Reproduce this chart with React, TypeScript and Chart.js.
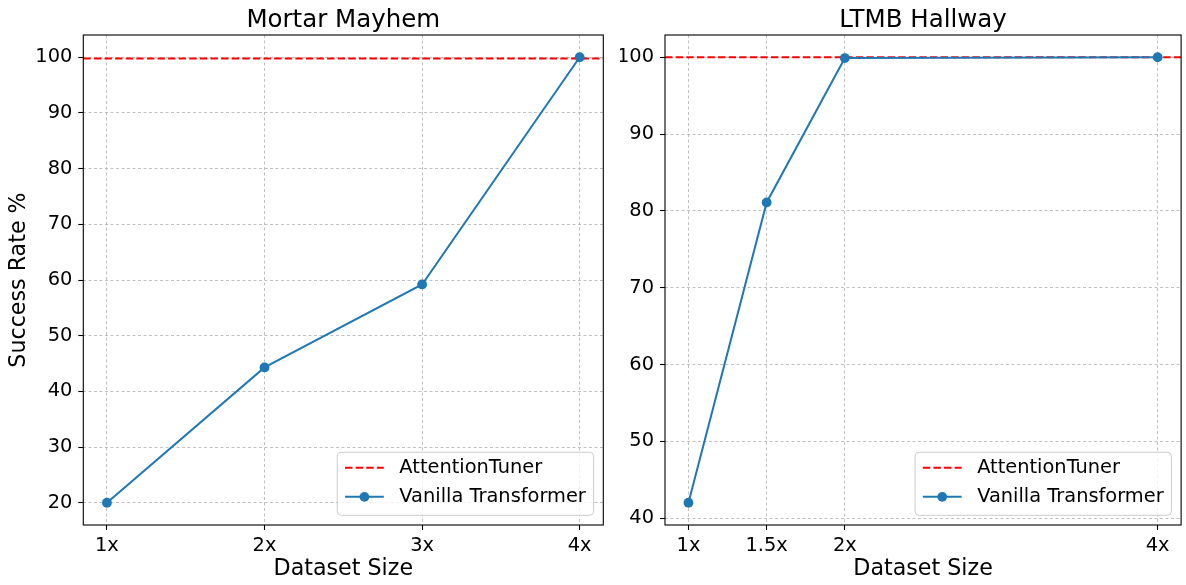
import React, { useEffect, useRef } from "react";
import { Chart, registerables } from "chart.js";

Chart.register(...registerables);

const FONT = "'DejaVu Sans', 'Liberation Sans', sans-serif";

// ---- data ----
const seriesNames = ["AttentionTuner", "Vanilla Transformer"];

const mmTitle = "Mortar Mayhem";
const mmX = [1, 2, 3, 4];
const mmXLabels = ["1x", "2x", "3x", "4x"];
const mmVanilla = [20.0, 44.3, 59.2, 100.0];
const mmAttention = 99.8;
const mmYTicks = [20, 30, 40, 50, 60, 70, 80, 90, 100];

const lhTitle = "LTMB Hallway";
const lhX = [1, 1.5, 2, 4];
const lhXLabels = ["1x", "1.5x", "2x", "4x"];
const lhVanilla = [42.0, 81.1, 99.9, 100.0];
const lhAttention = 100.0;
const lhYTicks = [40, 50, 60, 70, 80, 90, 100];

const xTitle = "Dataset Size";
const yTitle = "Success Rate %";

const BLUE = "#1f77b4";
const RED = "#ff0000";

function pad5(lo: number, hi: number) {
  const m = (hi - lo) * 0.05;
  return [lo - m, hi + m];
}

type PanelOpts = {
  title: string;
  xs: number[];
  xLabels: string[];
  vals: number[];
  att: number;
  yTicks: number[];
  yWidth: number;
  rightPad: number;
  showYTitle: boolean;
};

function makeConfig(o: PanelOpts): any {
  const [xMin, xMax] = pad5(Math.min(...o.xs), Math.max(...o.xs));
  const [yMin, yMax] = pad5(Math.min(...o.vals), Math.max(...o.vals));
  const legendFs = 19.4;

  const overlay = {
    id: "overlay",
    afterDraw(chart: any) {
      const ctx = chart.ctx;
      const a = chart.chartArea;
      ctx.save();
      // frame
      ctx.strokeStyle = "#000";
      ctx.lineWidth = 1.1;
      ctx.setLineDash([]);
      ctx.strokeRect(a.left, a.top, a.right - a.left, a.bottom - a.top);
      // title
      ctx.fillStyle = "#000";
      ctx.font = `24.5px ${FONT}`;
      ctx.textAlign = "center";
      ctx.textBaseline = "alphabetic";
      ctx.fillText(o.title, (a.left + a.right) / 2, 26.5);
      // legend
      const fs = legendFs;
      ctx.font = `${fs}px ${FONT}`;
      const tw = Math.max(...seriesNames.map((s) => ctx.measureText(s).width));
      const pad = 0.4 * fs;
      const handle = 2 * fs;
      const gap = 0.8 * fs;
      const w = pad + handle + gap + tw + pad;
      const h = 3.25 * fs;
      const bx = a.right - 0.5 * fs - w;
      const by = a.bottom - 0.5 * fs - h;
      const r = 4;
      ctx.beginPath();
      ctx.moveTo(bx + r, by);
      ctx.lineTo(bx + w - r, by);
      ctx.quadraticCurveTo(bx + w, by, bx + w, by + r);
      ctx.lineTo(bx + w, by + h - r);
      ctx.quadraticCurveTo(bx + w, by + h, bx + w - r, by + h);
      ctx.lineTo(bx + r, by + h);
      ctx.quadraticCurveTo(bx, by + h, bx, by + h - r);
      ctx.lineTo(bx, by + r);
      ctx.quadraticCurveTo(bx, by, bx + r, by);
      ctx.closePath();
      ctx.fillStyle = "rgba(255,255,255,0.8)";
      ctx.fill();
      ctx.strokeStyle = "#cccccc";
      ctx.lineWidth = 1;
      ctx.stroke();
      const row1 = by + 0.8 * fs;
      const row2 = row1 + 1.5 * fs;
      const hx0 = bx + pad;
      const hx1 = hx0 + handle;
      // red dashed handle
      ctx.strokeStyle = RED;
      ctx.lineWidth = 2;
      ctx.setLineDash([7.4, 3.2]);
      ctx.beginPath();
      ctx.moveTo(hx0, row1);
      ctx.lineTo(hx1, row1);
      ctx.stroke();
      ctx.setLineDash([]);
      // blue handle with marker
      ctx.strokeStyle = BLUE;
      ctx.beginPath();
      ctx.moveTo(hx0, row2);
      ctx.lineTo(hx1, row2);
      ctx.stroke();
      ctx.fillStyle = BLUE;
      ctx.beginPath();
      ctx.arc((hx0 + hx1) / 2, row2, 4.9, 0, Math.PI * 2);
      ctx.fill();
      // texts
      ctx.fillStyle = "#000";
      ctx.textAlign = "left";
      ctx.textBaseline = "middle";
      ctx.fillText(seriesNames[0], hx1 + gap, row1);
      ctx.fillText(seriesNames[1], hx1 + gap, row2);
      ctx.restore();
    },
  };

  const gridCommon = {
    color: "#b0b0b0",
    lineWidth: 0.8,
    drawTicks: true,
    tickLength: 5,
    tickColor: "#000",
    tickWidth: 1.1,
    tickBorderDash: [],
  };
  const tickFont = { family: FONT, size: 19.4 };

  return {
    type: "line",
    data: {
      datasets: [
        {
          label: seriesNames[1],
          data: o.xs.map((x, i) => ({ x, y: o.vals[i] })),
          borderColor: BLUE,
          backgroundColor: BLUE,
          borderWidth: 2,
          pointRadius: 4.9,
          pointBorderWidth: 0,
          pointHoverRadius: 4.9,
          pointBackgroundColor: BLUE,
          tension: 0,
          order: 0,
          clip: false,
        },
        {
          label: seriesNames[0],
          data: [
            { x: xMin, y: o.att },
            { x: xMax, y: o.att },
          ],
          borderColor: RED,
          borderWidth: 2,
          borderDash: [7.4, 3.2],
          pointRadius: 0,
          pointHoverRadius: 0,
          order: 1,
        },
      ],
    },
    options: {
      animation: false,
      responsive: false,
      maintainAspectRatio: false,
      events: [],
      layout: { padding: { top: 35, right: o.rightPad, left: 0, bottom: 0 } },
      plugins: {
        legend: { display: false },
        tooltip: { enabled: false },
        title: { display: false },
      },
      scales: {
        x: {
          type: "linear",
          min: xMin,
          max: xMax,
          afterBuildTicks: (s: any) => {
            s.ticks = o.xs.map((v) => ({ value: v }));
          },
          afterFit: (s: any) => {
            s.height = 60;
          },
          ticks: {
            callback: (v: any) => {
              const i = o.xs.indexOf(Number(v));
              return i >= 0 ? o.xLabels[i] : "";
            },
            font: tickFont,
            color: "#000",
            padding: 4,
            maxRotation: 0,
            autoSkip: false,
          },
          grid: gridCommon,
          border: { display: false, dash: [3, 2.5] },
          title: {
            display: true,
            text: xTitle,
            color: "#000",
            font: { family: FONT, size: 22.2 },
            padding: { top: 0, bottom: 2 },
          },
        },
        y: {
          type: "linear",
          min: yMin,
          max: yMax,
          afterBuildTicks: (s: any) => {
            s.ticks = o.yTicks.map((v) => ({ value: v }));
          },
          afterFit: (s: any) => {
            s.width = o.yWidth;
          },
          ticks: {
            callback: (v: any) => String(v),
            font: tickFont,
            color: "#000",
            padding: 6,
            autoSkip: false,
          },
          grid: gridCommon,
          border: { display: false, dash: [3, 2.5] },
          title: {
            display: o.showYTitle,
            text: yTitle,
            color: "#000",
            font: { family: FONT, size: 22.2 },
            padding: { top: 6, bottom: 0 },
          },
        },
      },
    },
    plugins: [overlay],
  };
}

function Panel(props: { opts: PanelOpts; left: number; width: number }) {
  const ref = useRef<HTMLCanvasElement | null>(null);
  useEffect(() => {
    if (!ref.current) return;
    const chart = new Chart(ref.current, makeConfig(props.opts));
    return () => chart.destroy();
  }, []);
  return (
    <canvas
      ref={ref}
      width={props.width}
      height={585}
      style={{
        position: "absolute",
        left: props.left,
        top: 0,
        width: props.width,
        height: 585,
        display: "block",
      }}
    />
  );
}

export default function App() {
  const left: PanelOpts = {
    title: mmTitle,
    xs: mmX,
    xLabels: mmXLabels,
    vals: mmVanilla,
    att: mmAttention,
    yTicks: mmYTicks,
    yWidth: 83.3,
    rightPad: 620 - 603.3,
    showYTitle: true,
  };
  const right: PanelOpts = {
    title: lhTitle,
    xs: lhX,
    xLabels: lhXLabels,
    vals: lhVanilla,
    att: lhAttention,
    yTicks: lhYTicks,
    yWidth: 45,
    rightPad: 2,
    showYTitle: false,
  };
  return (
    <div
      style={{
        position: "absolute",
        left: 0,
        top: 0,
        width: 1186,
        height: 585,
        background: "#fff",
        overflow: "hidden",
      }}
    >
      <Panel opts={left} left={0} width={620} />
      <Panel opts={right} left={620} width={566} />
    </div>
  );
}
